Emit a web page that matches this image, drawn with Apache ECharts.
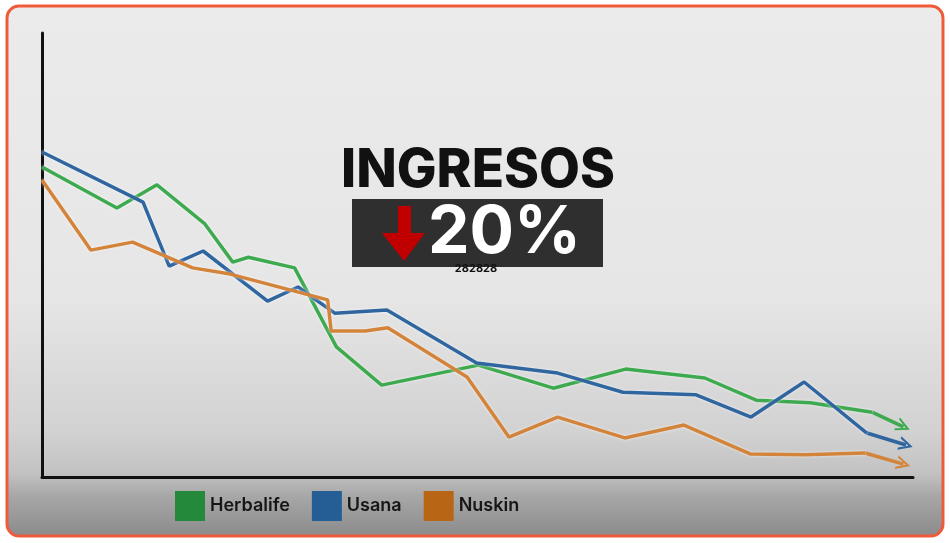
<!DOCTYPE html>
<html>
<head>
<meta charset="utf-8">
<script src="https://cdn.jsdelivr.net/npm/echarts@6/dist/echarts.min.js"></script>
<style>
  html, body { margin: 0; padding: 0; background: #fff; }
  #main { width: 950px; height: 543px; }
</style>
</head>
<body>
<div id="main"></div>
<script>
// valores (escala relativa 0-100)
var seriesNames = ['Herbalife', 'Usana', 'Nuskin'];

var herbalife = [
  [0, 69.8], [8.6, 60.6], [13.2, 65.8], [18.7, 57.0], [21.9, 48.4], [23.7, 49.5],
  [29.0, 47.1], [33.8, 29.3], [39.0, 20.7], [50.1, 25.2], [58.7, 20.0], [67.0, 24.3],
  [76.1, 22.3], [82.0, 17.3], [88.2, 16.7], [95.3, 14.6], [98.9, 11.3]
];
var usana = [
  [0, 73.2], [11.6, 61.9], [14.6, 47.5], [18.5, 50.9], [25.9, 39.6], [29.4, 42.8],
  [33.6, 36.9], [39.6, 37.6], [49.9, 25.7], [59.2, 23.4], [66.7, 19.1], [75.1, 18.5],
  [81.4, 13.5], [87.5, 21.4], [94.7, 9.9], [99.2, 7.2]
];
var nuskin = [
  [0, 66.9], [5.6, 51.1], [10.4, 52.9], [17.3, 47.1], [21.6, 45.7], [32.8, 39.9],
  [33.2, 32.9], [37.1, 32.9], [39.7, 33.6], [48.8, 22.5], [53.6, 9.0], [59.2, 13.5],
  [66.9, 8.8], [73.7, 11.7], [81.3, 5.2], [87.6, 5.0], [94.5, 5.4], [98.9, 2.9]
];

var lineColors = ['#3daa50', '#2f66a0', '#d4843a'];
var legendColors = ['#24893b', '#245e95', '#b86616'];

// punta de flecha abierta
var chevron = 'path://M0,10 L5,0 L10,10 L8.4,10 L5,3.2 L1.6,10 Z';

var chart = echarts.init(document.getElementById('main'));

function lastSegment(arr) {
  return [arr[arr.length - 2], arr[arr.length - 1]];
}

var allData = [herbalife, usana, nuskin];

var series = [];
allData.forEach(function (d, i) {
  series.push({
    name: seriesNames[i],
    type: 'line',
    data: d.slice(0, d.length - 1),
    showSymbol: false,
    z: 3 + i,
    lineStyle: {
      color: lineColors[i],
      width: 3.5,
      shadowColor: 'rgba(255,255,255,0.7)',
      shadowBlur: 3
    },
    itemStyle: { color: lineColors[i] }
  });
  // último tramo con flecha
  series.push({
    type: 'lines',
    coordinateSystem: 'cartesian2d',
    z: 3 + i,
    symbol: ['none', chevron],
    symbolSize: [17, 14],
    lineStyle: { color: lineColors[i], width: 3.5, opacity: 1, curveness: 0 },
    data: [{ coords: lastSegment(d) }]
  });
});

var option = {
  animation: false,
  graphic: [
    {
      type: 'rect',
      z: -10,
      shape: { x: 7, y: 6, width: 936, height: 530, r: 12 },
      style: {
        fill: {
          type: 'linear', x: 0, y: 0, x2: 0, y2: 1,
          colorStops: [
            { offset: 0, color: '#ebebeb' },
            { offset: 0.55, color: '#e6e6e6' },
            { offset: 0.8, color: '#d2d2d2' },
            { offset: 0.88, color: '#c2c2c2' },
            { offset: 0.92, color: '#a8a8a8' },
            { offset: 1, color: '#8a8a8a' }
          ]
        },
        stroke: '#ef5a3a',
        lineWidth: 3
      }
    },
    {
      type: 'text',
      z: 10,
      x: 478, y: 171,
      style: {
        text: 'INGRESOS',
        font: '800 53px Inter',
        fill: '#111',
        textAlign: 'center',
        textVerticalAlign: 'middle'
      }
    },
    {
      type: 'rect',
      z: 10,
      shape: { x: 352, y: 199, width: 251, height: 68 },
      style: { fill: '#2f2f2f' }
    },
    {
      type: 'polygon',
      z: 11,
      shape: {
        points: [[398, 206], [411, 206], [411, 233], [425, 233], [404, 261], [382, 233], [398, 233]]
      },
      style: { fill: '#c00000' }
    },
    {
      type: 'text',
      z: 11,
      x: 428, y: 233,
      style: {
        text: '20%',
        font: '700 66px Inter',
        fill: '#fff',
        textAlign: 'left',
        textVerticalAlign: 'middle'
      }
    },
    {
      type: 'text',
      z: 11,
      x: 476, y: 269,
      style: {
        text: '282828',
        font: 'bold 11px Inter',
        fill: '#111',
        textAlign: 'center',
        textVerticalAlign: 'middle'
      }
    }
  ],
  legend: {
    left: 170,
    top: 486,
    icon: 'rect',
    itemWidth: 30,
    itemHeight: 30,
    itemGap: 22,
    textStyle: {
      color: '#161616',
      fontFamily: 'Inter',
      fontWeight: 600,
      fontSize: 18
    },
    data: seriesNames.map(function (n, i) {
      return { name: n, itemStyle: { color: legendColors[i] } };
    })
  },
  grid: { left: 42, right: 37, top: 33, bottom: 66 },
  xAxis: {
    type: 'value',
    min: 0,
    max: 100,
    axisLine: { show: true, lineStyle: { color: '#111', width: 3 } },
    axisTick: { show: false },
    axisLabel: { show: false },
    splitLine: { show: false }
  },
  yAxis: {
    type: 'value',
    min: 0,
    max: 100,
    axisLine: { show: true, lineStyle: { color: '#111', width: 3 } },
    axisTick: { show: false },
    axisLabel: { show: false },
    splitLine: { show: false }
  },
  series: series
};

chart.setOption(option);
</script>
</body>
</html>
